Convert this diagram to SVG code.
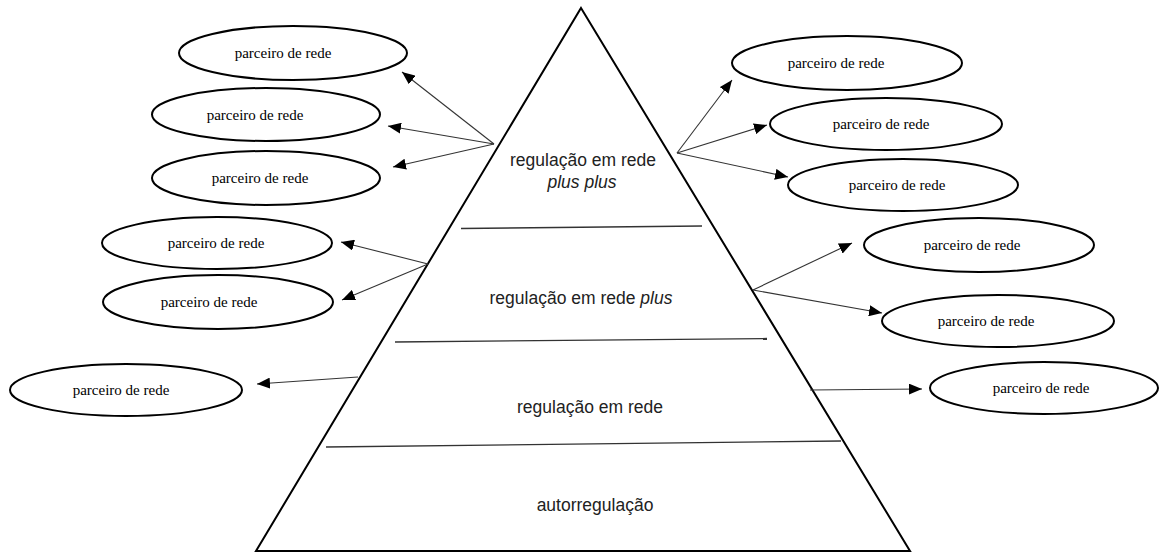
<svg xmlns="http://www.w3.org/2000/svg" width="1160" height="553" viewBox="0 0 1160 553">
<style>
.bg{fill:#fff}
.node ellipse{fill:#fff;stroke:#000;stroke-width:2}
.node text{font-family:"Liberation Serif","Times New Roman",serif;font-size:15px;fill:#000;text-anchor:middle}
.pyr{fill:none;stroke:#000;stroke-width:2}
.div{stroke:#333;stroke-width:1.3}
.lvl{font-family:"Liberation Sans",Arial,sans-serif;font-size:17.5px;fill:#222;text-anchor:middle}
.conn line{stroke:#333;stroke-width:1.1;marker-end:url(#ah)}
</style>
<defs>
<marker id="ah" viewBox="0 0 13 11" refX="13" refY="5.5" markerWidth="13" markerHeight="11" markerUnits="userSpaceOnUse" orient="auto">
<path d="M0,0 L13,5.5 L0,11 z" fill="#000"/>
</marker>
</defs>
<rect class="bg" width="1160" height="553"/>
<g id="pyramid">
<polygon class="pyr" points="581,8 910,551 256,551"/>
<line class="div" x1="461" y1="228.5" x2="702" y2="226"/>
<line class="div" x1="395" y1="342" x2="767" y2="338.5"/>
<line class="div" x1="326" y1="447" x2="841" y2="441"/>
<text class="lvl" x="583" y="166">regulação em rede</text>
<text class="lvl" x="582" y="188" font-style="italic">plus plus</text>
<text class="lvl" x="581" y="304">regulação em rede <tspan font-style="italic">plus</tspan></text>
<text class="lvl" x="590" y="413">regulação em rede</text>
<text class="lvl" x="595" y="511">autorregulação</text>
</g>
<g id="L1" class="node"><ellipse cx="293" cy="53" rx="114" ry="27"/><text x="283" y="58">parceiro de rede</text></g>
<g id="L2" class="node"><ellipse cx="266" cy="114.5" rx="114" ry="26.5"/><text x="255" y="119.5">parceiro de rede</text></g>
<g id="L3" class="node"><ellipse cx="266" cy="178" rx="114" ry="27"/><text x="260" y="183">parceiro de rede</text></g>
<g id="L4" class="node"><ellipse cx="217" cy="243" rx="115" ry="26"/><text x="216" y="248">parceiro de rede</text></g>
<g id="L5" class="node"><ellipse cx="218" cy="302" rx="115" ry="27"/><text x="209" y="307">parceiro de rede</text></g>
<g id="L6" class="node"><ellipse cx="126" cy="390" rx="116" ry="26"/><text x="121" y="395">parceiro de rede</text></g>
<g id="R1" class="node"><ellipse cx="847" cy="63" rx="115" ry="27"/><text x="836" y="68">parceiro de rede</text></g>
<g id="R2" class="node"><ellipse cx="886" cy="124" rx="116" ry="26"/><text x="881" y="129">parceiro de rede</text></g>
<g id="R3" class="node"><ellipse cx="903" cy="185" rx="115" ry="26"/><text x="897" y="190">parceiro de rede</text></g>
<g id="R4" class="node"><ellipse cx="979" cy="245" rx="115" ry="27"/><text x="972" y="250">parceiro de rede</text></g>
<g id="R5" class="node"><ellipse cx="998" cy="321" rx="116" ry="26"/><text x="986" y="326">parceiro de rede</text></g>
<g id="R6" class="node"><ellipse cx="1044" cy="388" rx="114" ry="26"/><text x="1041" y="393">parceiro de rede</text></g>
<g id="connectors" class="conn">
<line x1="494" y1="144" x2="402" y2="72"/>
<line x1="494" y1="144" x2="388" y2="126"/>
<line x1="494" y1="144" x2="393" y2="167"/>
<line x1="677" y1="153" x2="732" y2="80"/>
<line x1="677" y1="153" x2="767" y2="125"/>
<line x1="677" y1="153" x2="788" y2="177"/>
<line x1="428" y1="264" x2="341" y2="242"/>
<line x1="428" y1="264" x2="342" y2="300"/>
<line x1="358" y1="377" x2="257" y2="384"/>
<line x1="753" y1="290" x2="852" y2="243"/>
<line x1="753" y1="290" x2="882" y2="313"/>
<line x1="810" y1="390" x2="922" y2="389"/>
</g>
</svg>
